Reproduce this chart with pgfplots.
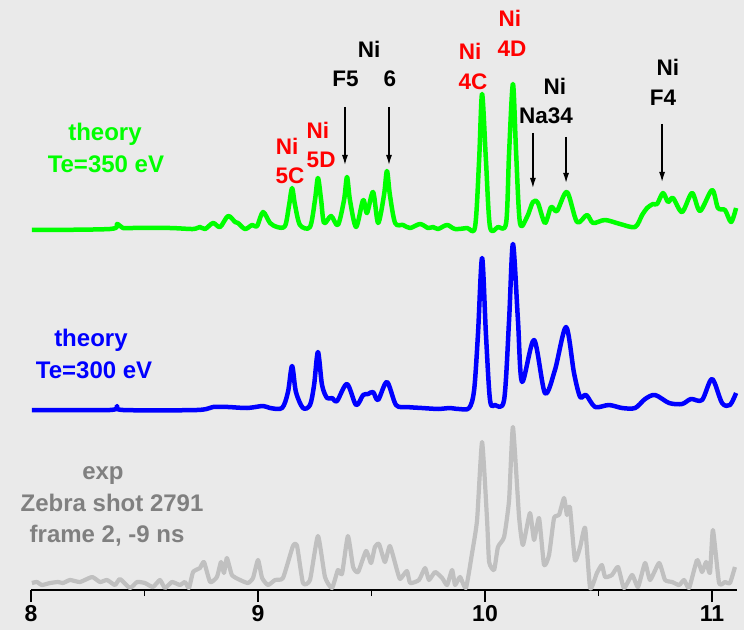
\documentclass[border=0pt]{standalone}
\usepackage{fontspec}
\setmainfont{Liberation Sans}
\usepackage{pgfplots}
\pgfplotsset{compat=1.18}
\usetikzlibrary{arrows.meta}
\definecolor{bg}{RGB}{234,234,234}
\definecolor{cgreen}{RGB}{0,255,0}
\definecolor{cblue}{RGB}{0,0,255}
\definecolor{cgray}{RGB}{192,192,192}
\definecolor{tgray}{RGB}{128,128,128}
\definecolor{cred}{RGB}{255,0,0}
\begin{document}
\begin{tikzpicture}[
  lab/.style={font=\fontsize{24}{28}\selectfont\bfseries, anchor=base, inner sep=0pt},
  ann/.style={font=\fontsize{22.5}{27}\selectfont\bfseries, anchor=base, inner sep=0pt},
  arr/.style={black, line width=1.3pt, -{Latex[length=10pt,width=6pt]}},
]
\fill[bg] (-31pt,-40pt) rectangle (713pt,590pt);
\begin{axis}[
  at={(0,0)}, anchor=south west,
  scale only axis, width=706pt, height=590pt,
  xmin=8, xmax=11.11, ymin=0, ymax=590,
  axis x line*=bottom, axis y line=none,
  clip=false,
  xtick={8,9,10,11}, minor xtick={8.5,9.5,10.5},
  xtick align=outside,
  major tick length=12pt, minor tick length=6pt,
  every tick/.style={black, line width=1.6pt},
  every minor tick/.style={black, line width=1.6pt},
  x axis line style={black, line width=1.6pt, -},
  /pgf/number format/assume math mode=true,
  xticklabel style={font=\fontsize{23}{23}\selectfont\bfseries, text=black},
]
% experiment (gray)
\addplot[cgray, line width=4.2pt, line join=round, smooth, tension=0.3] coordinates {
(8.004,7) (8.026,8) (8.048,5) (8.084,7) (8.119,8) (8.141,7) (8.172,10) (8.216,8)
(8.269,13) (8.304,8) (8.335,10) (8.370,5) (8.392,11) (8.436,2) (8.467,8) (8.502,7)
(8.537,3) (8.568,10) (8.590,2) (8.621,8) (8.656,5) (8.678,8) (8.696,2) (8.714,18)
(8.744,22) (8.762,28) (8.789,8) (8.819,13) (8.837,28) (8.850,17) (8.863,32) (8.885,15)
(8.921,10) (8.956,7) (8.978,12) (9.000,30) (9.018,12) (9.044,5) (9.075,10) (9.110,12)
(9.154,44) (9.172,44) (9.198,7) (9.229,10) (9.264,54) (9.295,13) (9.326,2) (9.352,20)
(9.370,16) (9.396,54) (9.419,23) (9.441,18) (9.476,39) (9.498,27) (9.515,43) (9.533,46)
(9.559,28) (9.581,44) (9.612,20) (9.626,11) (9.656,19) (9.670,7) (9.709,10) (9.736,22)
(9.753,10) (9.780,18) (9.811,12) (9.833,5) (9.855,20) (9.868,5) (9.890,13) (9.916,2)
(9.943,37) (9.965,70) (9.987,148) (10.009,70) (10.018,28) (10.040,20) (10.057,43) (10.084,53)
(10.106,90) (10.123,163) (10.150,73) (10.167,45) (10.198,77) (10.216,50) (10.238,72) (10.260,25)
(10.282,35) (10.304,72) (10.326,75) (10.348,92) (10.361,75) (10.374,83) (10.396,30) (10.419,43)
(10.441,62) (10.463,2) (10.493,17) (10.515,25) (10.529,13) (10.559,15) (10.586,23) (10.612,2)
(10.648,15) (10.674,3) (10.705,27) (10.727,10) (10.767,27) (10.793,10) (10.824,8) (10.855,5)
(10.877,10) (10.899,2) (10.934,30) (10.956,18) (10.974,28) (10.991,17) (11.004,60) (11.031,7)
(11.057,8) (11.079,7) (11.101,23)
};
% theory 300 eV (blue)
\addplot[cblue, line width=4.5pt, line join=round, smooth, tension=0.5] coordinates {
(8.004,180) (8.348,180) (8.379,184) (8.405,180) (8.731,180) (8.802,183) (8.868,183) (8.952,182)
(9.022,184) (9.053,182) (9.106,182) (9.132,198) (9.150,224) (9.167,198) (9.198,182) (9.229,185)
(9.247,205) (9.264,238) (9.282,205) (9.304,192) (9.326,192) (9.348,189) (9.392,206) (9.432,185)
(9.463,195) (9.485,196) (9.507,198) (9.529,190) (9.568,208) (9.608,185) (9.656,183) (9.722,182)
(9.797,181) (9.841,182) (9.885,181) (9.930,182) (9.952,200) (9.969,256) (9.987,332) (10.004,256)
(10.022,190) (10.044,185) (10.084,190) (10.106,270) (10.123,346) (10.145,270) (10.163,208) (10.216,250)
(10.264,197) (10.308,220) (10.357,263) (10.392,217) (10.419,193) (10.445,195) (10.485,183) (10.546,185)
(10.604,182) (10.661,182) (10.705,191) (10.749,195) (10.811,187) (10.868,186) (10.907,191) (10.956,190)
(11.000,211) (11.044,187) (11.079,185) (11.106,197)
};
% theory 350 eV (green)
\addplot[cgreen, line width=4.5pt, line join=round, smooth, tension=0.5] coordinates {
(8.004,360) (8.348,361) (8.379,366) (8.405,362) (8.449,362) (8.612,362) (8.714,361) (8.744,363)
(8.767,361) (8.802,367) (8.833,363) (8.868,374) (8.899,368) (8.912,367) (8.943,361) (8.974,365)
(8.996,364) (9.022,378) (9.053,367) (9.084,363) (9.119,364) (9.137,385) (9.150,402) (9.163,385)
(9.185,365) (9.229,363) (9.251,390) (9.264,412) (9.278,390) (9.291,367) (9.322,374) (9.352,365)
(9.379,390) (9.392,413) (9.405,390) (9.432,363) (9.463,390) (9.480,377) (9.507,398) (9.529,367)
(9.555,395) (9.568,419) (9.581,395) (9.604,367) (9.639,365) (9.670,362) (9.714,366) (9.749,362)
(9.771,363) (9.793,361) (9.833,365) (9.868,361) (9.921,362) (9.956,363) (9.974,430) (9.987,496)
(10.004,430) (10.022,363) (10.057,363) (10.093,367) (10.106,437) (10.123,506) (10.137,437) (10.154,367)
(10.185,373) (10.211,388) (10.233,387) (10.264,367) (10.291,383) (10.317,379) (10.361,398) (10.405,368)
(10.449,375) (10.476,367) (10.529,370) (10.595,366) (10.661,363) (10.692,375) (10.714,382) (10.740,386)
(10.758,386) (10.784,397) (10.806,388) (10.828,392) (10.868,378) (10.912,397) (10.947,379) (11.000,400)
(11.026,382) (11.057,380) (11.084,368) (11.106,382)
};
% left labels
\node[lab, text=cgreen] at (axis cs:8.326,449) {theory};
\node[lab, text=cgreen] at (axis cs:8.330,417) {Te=350 eV};
\node[lab, text=cblue] at (axis cs:8.264,244) {theory};
\node[lab, text=cblue] at (axis cs:8.278,212) {Te=300 eV};
\node[lab, text=tgray] at (axis cs:8.317,111) {exp};
\node[lab, text=tgray] at (axis cs:8.357,79) {Zebra shot 2791};
\node[lab, text=tgray] at (axis cs:8.335,48) {frame 2, -9 ns};
% annotations
\node[ann, text=cred] at (axis cs:9.128,435) {Ni};
\node[ann, text=cred] at (axis cs:9.141,406) {5C};
\node[ann, text=cred] at (axis cs:9.264,451) {Ni};
\node[ann, text=cred] at (axis cs:9.278,422) {5D};
\node[ann, text=black] at (axis cs:9.489,532) {Ni};
\node[ann, text=black] at (axis cs:9.385,503) {F5};
\node[ann, text=black] at (axis cs:9.581,503) {6};
\node[ann, text=cred] at (axis cs:9.934,530) {Ni};
\node[ann, text=cred] at (axis cs:9.947,500) {4C};
\node[ann, text=cred] at (axis cs:10.110,563) {Ni};
\node[ann, text=cred] at (axis cs:10.119,533) {4D};
\node[ann, text=black] at (axis cs:10.308,495) {Ni};
\node[ann, text=black] at (axis cs:10.269,466) {Na34};
\node[ann, text=black] at (axis cs:10.806,514) {Ni};
\node[ann, text=black] at (axis cs:10.784,484) {F4};
% arrows
\draw[arr] (axis cs:9.383,483) -- (axis cs:9.383,425);
\draw[arr] (axis cs:9.577,483) -- (axis cs:9.577,425);
\draw[arr] (axis cs:10.211,457) -- (axis cs:10.211,402);
\draw[arr] (axis cs:10.357,453) -- (axis cs:10.357,407);
\draw[arr] (axis cs:10.780,466) -- (axis cs:10.780,408);
\end{axis}
\pgfresetboundingbox
\useasboundingbox (-31pt,-40pt) rectangle (713pt,590pt);
\end{tikzpicture}
\end{document}
